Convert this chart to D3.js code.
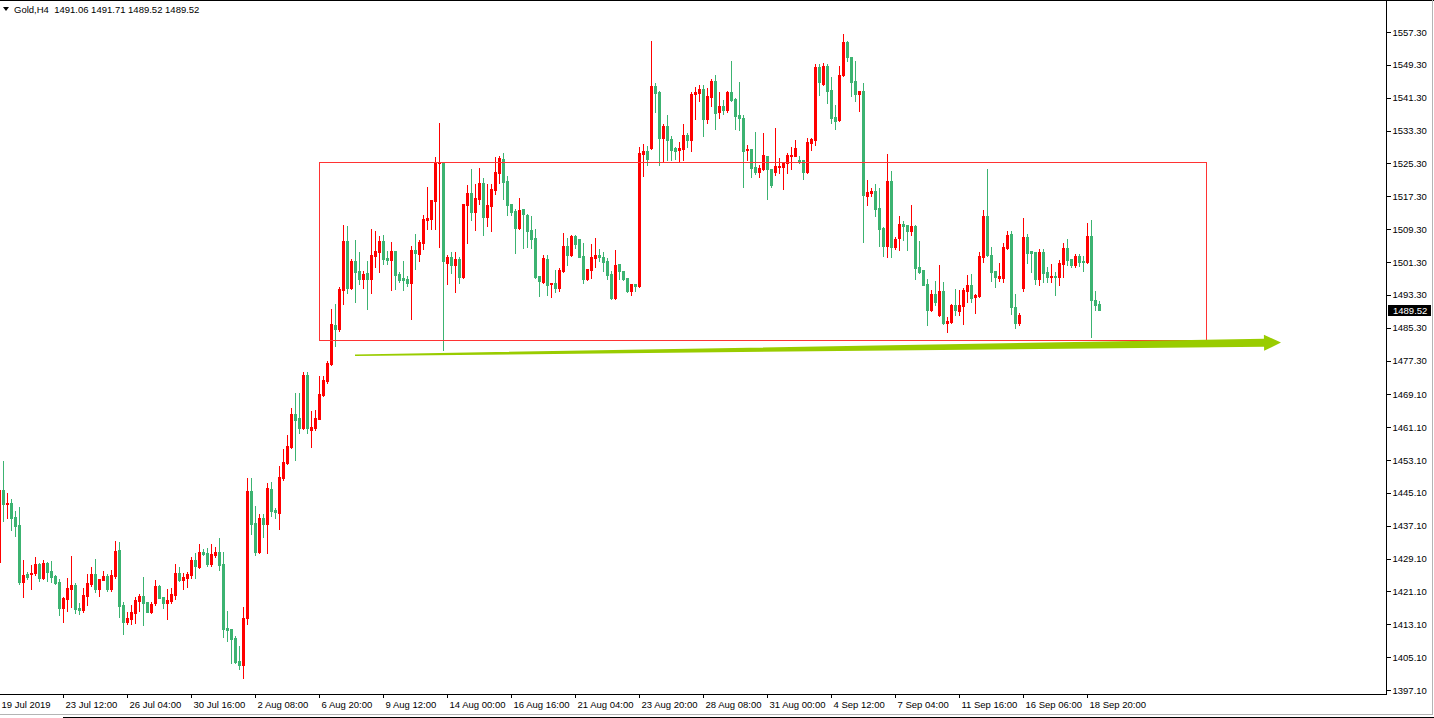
<!DOCTYPE html>
<html><head><meta charset="utf-8">
<script src="https://cdn.jsdelivr.net/npm/d3@7"></script>
<style>
html,body{margin:0;padding:0;background:#fff;overflow:hidden}
svg{display:block}
text{font-family:"Liberation Sans",Arial,sans-serif;font-size:9.5px;fill:#000}
</style>
</head><body>
<svg id="c" width="1434" height="718"></svg>
<script>
// ---- data (Gold, H4) ----
const openP=[1428.2,1445.8,1442.3,1442.6,1439.2,1437.3,1423.4,1425.3,1425.3,1425.6,1427.8,1424.4,1428.0,1426.1,1424.8,1423.4,1417.1,1419.2,1421.7,1422.7,
1417.1,1416.6,1420.0,1422.9,1425.3,1421.7,1423.9,1424.8,1421.7,1424.8,1431.2,1417.8,1413.6,1414.4,1415.8,1418.8,1420.0,1418.5,1416.1,1418.3,
1422.4,1419.7,1418.3,1418.8,1420.2,1425.6,1423.9,1424.4,1425.1,1428.7,1427.0,1430.7,1430.4,1427.8,1430.0,1430.7,1427.8,1412.2,1411.9,1409.7,
1404.1,1403.2,1414.6,1445.5,1437.8,1430.7,1439.0,1437.5,1446.0,1440.9,1440.2,1448.7,1452.3,1456.2,1464.3,1463.3,1460.9,1473.8,1460.4,1460.9,
1463.1,1468.9,1472.3,1476.5,1486.0,1485.0,1494.5,1506.4,1495.0,1501.5,1499.1,1497.1,1498.6,1497.1,1502.8,1503.7,1506.4,1502.3,1501.8,1504.0,
1498.4,1497.4,1497.1,1496.2,1504.2,1503.2,1505.9,1511.5,1511.8,1516.1,1525.4,1525.6,1501.0,1502.5,1500.6,1502.0,1497.6,1515.2,1518.1,1513.5,
1516.6,1520.5,1512.2,1514.9,1518.8,1523.0,1526.4,1521.0,1515.4,1513.7,1509.6,1514.2,1512.7,1509.1,1507.1,1497.9,1496.4,1502.0,1495.9,1496.2,
1495.0,1499.1,1505.2,1503.0,1507.6,1506.9,1502.8,1497.1,1499.3,1502.3,1503.0,1502.5,1501.5,1498.4,1492.5,1500.8,1499.1,1497.4,1494.2,1495.9,
1495.4,1527.6,1528.3,1529.1,1544.1,1542.7,1531.5,1534.4,1531.2,1529.1,1528.6,1528.8,1532.2,1531.0,1542.2,1542.4,1543.4,1536.1,1541.5,1545.4,
1537.8,1539.3,1538.3,1542.7,1541.0,1537.1,1536.4,1528.6,1528.8,1524.4,1523.2,1523.9,1527.1,1523.9,1523.2,1524.4,1524.4,1525.4,1527.1,1527.1,
1526.1,1526.1,1523.2,1530.3,1531.0,1548.8,1544.6,1549.0,1543.2,1536.6,1535.9,1546.8,1554.9,1551.2,1545.4,1542.2,1542.9,1517.4,1518.1,1518.6,
1514.4,1509.6,1505.2,1521.0,1505.0,1507.1,1510.5,1510.3,1508.8,1510.1,1500.1,1499.3,1495.9,1489.6,1493.5,1488.4,1494.2,1486.4,1486.7,1490.8,
1489.4,1490.6,1494.2,1495.7,1492.8,1493.0,1502.5,1512.5,1503.0,1499.1,1497.4,1497.4,1504.7,1508.1,1490.3,1486.4,1495.0,1507.4,1504.0,1503.7,
1497.1,1503.7,1498.8,1497.6,1497.9,1497.6,1500.8,1504.7,1502.0,1500.6,1502.8,1501.5,1501.3,1507.6,1492.0,1491.06];
const highP=[1446.3,1452.8,1445.0,1443.6,1440.7,1441.6,1428.7,1425.8,1427.5,1429.5,1428.0,1428.7,1428.2,1428.5,1425.1,1424.1,1419.7,1424.4,1429.7,1423.1,
1418.3,1421.9,1425.3,1427.0,1429.0,1424.1,1426.1,1425.3,1426.3,1433.4,1433.1,1418.5,1416.1,1417.8,1419.7,1420.5,1424.6,1418.6,1418.5,1423.9,
1422.7,1419.8,1421.7,1421.9,1427.8,1427.0,1425.6,1425.8,1429.5,1430.4,1432.6,1431.4,1431.7,1432.6,1431.9,1434.1,1430.7,1416.3,1412.0,1410.2,
1407.8,1417.3,1448.7,1448.7,1441.9,1439.9,1439.9,1447.5,1447.7,1441.4,1451.6,1455.8,1459.2,1465.7,1469.4,1469.4,1474.5,1474.5,1465.0,1465.3,
1473.5,1473.5,1477.2,1489.8,1491.1,1495.2,1510.3,1510.1,1502.0,1506.6,1503.7,1499.1,1501.5,1509.3,1508.8,1507.6,1507.9,1504.0,1506.2,1504.1,
1498.8,1501.5,1497.9,1505.2,1508.1,1506.6,1512.7,1519.6,1516.5,1526.9,1535.1,1525.7,1503.0,1503.7,1503.7,1502.5,1515.5,1520.0,1523.9,1520.3,
1524.2,1521.7,1520.3,1520.3,1526.9,1527.1,1527.8,1522.2,1515.5,1514.2,1516.9,1514.3,1513.0,1512.5,1509.3,1498.0,1503.0,1503.0,1496.3,1499.3,
1499.8,1508.4,1507.1,1507.9,1507.9,1507.0,1505.9,1499.7,1505.7,1507.1,1504.5,1503.7,1502.3,1499.1,1504.2,1500.9,1499.2,1497.5,1496.0,1496.0,
1529.3,1530.0,1529.5,1555.1,1544.9,1542.9,1534.9,1537.1,1532.0,1529.3,1530.5,1534.9,1532.7,1542.7,1543.9,1544.4,1544.4,1543.7,1545.9,1546.8,
1542.7,1540.7,1542.9,1550.2,1541.2,1545.1,1537.1,1529.8,1528.9,1532.9,1524.9,1532.7,1527.2,1524.0,1533.9,1526.6,1525.7,1527.8,1529.3,1531.0,
1527.1,1526.2,1531.5,1531.5,1549.5,1549.5,1549.7,1549.5,1546.3,1539.5,1549.0,1556.8,1555.1,1551.3,1550.2,1543.0,1544.9,1521.3,1519.3,1520.3,
1519.3,1509.8,1527.6,1523.4,1507.4,1512.5,1511.3,1510.4,1515.2,1510.3,1506.4,1499.4,1497.1,1494.5,1496.6,1500.6,1496.4,1487.9,1491.0,1494.7,
1494.5,1495.0,1498.1,1498.4,1493.4,1503.7,1514.0,1523.9,1505.0,1499.2,1501.1,1505.9,1508.8,1508.8,1493.5,1488.9,1512.0,1508.1,1504.1,1503.8,
1504.5,1504.5,1500.1,1500.8,1498.8,1501.8,1505.9,1506.9,1502.1,1503.2,1503.2,1502.8,1510.8,1511.5,1494.2,1491.71];
const lowP=[1427.8,1438.2,1439.0,1436.0,1434.6,1422.9,1419.7,1424.1,1421.7,1425.1,1423.6,1424.1,1423.6,1423.4,1422.9,1415.3,1413.6,1416.3,1417.3,1415.8,
1415.6,1416.1,1417.8,1422.4,1421.0,1420.0,1423.9,1421.2,1421.2,1424.4,1414.9,1410.7,1413.2,1413.2,1413.4,1416.3,1412.9,1416.0,1415.8,1417.8,
1419.4,1417.1,1414.4,1418.3,1419.2,1423.6,1421.7,1422.2,1424.4,1424.4,1426.9,1430.0,1427.3,1427.3,1429.5,1426.3,1410.0,1409.0,1403.7,1403.6,
1402.2,1400.0,1413.2,1435.1,1430.0,1430.5,1434.3,1430.4,1439.5,1439.0,1436.3,1448.2,1452.1,1456.0,1453.1,1459.6,1460.6,1459.6,1456.2,1460.4,
1463.0,1468.7,1471.8,1476.3,1480.8,1484.5,1491.1,1493.7,1494.8,1491.6,1495.9,1495.0,1489.8,1493.7,1500.1,1498.8,1500.8,1500.8,1494.5,1494.7,
1496.4,1494.5,1495.4,1487.4,1499.6,1501.5,1504.5,1509.3,1509.3,1509.3,1505.0,1479.9,1495.9,1498.6,1494.0,1496.2,1497.4,1505.9,1511.5,1509.1,
1515.4,1507.9,1510.1,1508.8,1517.8,1520.5,1516.6,1512.7,1512.7,1503.5,1509.4,1504.7,1505.0,1504.7,1497.4,1493.0,1496.2,1493.3,1492.8,1494.0,
1494.2,1498.8,1500.6,1502.8,1504.7,1502.4,1496.2,1496.9,1497.4,1500.1,1501.5,1499.1,1497.1,1492.3,1492.3,1497.1,1497.0,1494.1,1493.3,1494.2,
1495.2,1522.2,1524.9,1528.8,1537.8,1524.9,1525.6,1526.1,1526.1,1526.4,1525.6,1526.1,1529.3,1528.3,1536.1,1540.5,1532.0,1535.1,1539.3,1533.7,
1536.4,1537.3,1537.8,1540.6,1533.7,1533.4,1519.6,1526.1,1522.0,1522.7,1522.0,1523.7,1516.6,1519.6,1522.5,1523.0,1519.1,1523.0,1523.9,1527.0,
1525.4,1521.5,1523.0,1528.6,1529.8,1542.0,1544.4,1540.0,1535.1,1533.7,1535.7,1546.6,1550.2,1541.7,1540.5,1538.1,1506.2,1515.2,1517.4,1512.5,
1505.2,1502.8,1502.5,1502.5,1504.5,1504.2,1506.6,1504.2,1507.9,1497.1,1498.7,1495.6,1486.0,1489.4,1490.8,1488.2,1486.3,1484.3,1486.5,1488.4,
1488.4,1486.2,1491.6,1491.6,1488.9,1492.8,1501.3,1502.8,1496.6,1495.2,1496.6,1496.4,1504.5,1488.6,1485.2,1486.0,1494.2,1501.0,1498.8,1495.9,
1495.7,1496.4,1496.4,1496.4,1493.3,1495.7,1497.6,1500.6,1500.1,1500.1,1500.3,1499.1,1501.0,1483.0,1489.6,1489.52];
const closeP=[1445.8,1442.4,1442.6,1439.0,1437.0,1423.4,1425.1,1424.6,1425.6,1427.8,1424.4,1428.0,1425.8,1424.6,1423.1,1417.1,1419.5,1421.9,1422.7,1416.8,
1416.6,1420.2,1423.1,1425.3,1421.7,1424.1,1424.8,1421.7,1425.1,1430.9,1417.5,1413.6,1414.6,1416.1,1419.0,1420.0,1418.3,1416.1,1418.0,1422.4,
1419.5,1418.3,1419.0,1420.5,1425.6,1423.9,1424.6,1425.3,1428.7,1427.3,1430.7,1430.2,1427.8,1430.2,1430.7,1427.5,1411.9,1411.7,1409.5,1403.9,
1403.2,1414.6,1445.5,1437.5,1430.7,1439.0,1437.5,1446.3,1440.7,1440.4,1448.9,1452.6,1456.5,1464.3,1462.8,1460.9,1473.8,1460.9,1461.1,1463.3,
1469.2,1472.6,1476.7,1486.2,1485.0,1494.7,1506.4,1495.0,1501.5,1498.8,1497.1,1498.4,1497.1,1503.0,1504.0,1506.4,1502.0,1501.8,1504.0,1498.1,
1496.9,1496.9,1496.2,1504.2,1503.5,1506.2,1511.8,1512.0,1516.4,1525.6,1525.6,1501.5,1502.5,1500.6,1502.0,1497.6,1515.4,1518.1,1513.5,1516.9,
1520.5,1512.2,1515.2,1519.1,1523.2,1526.6,1520.8,1515.2,1513.5,1509.6,1514.0,1513.0,1508.8,1506.9,1497.6,1496.6,1502.3,1495.7,1496.2,1495.0,
1499.3,1505.2,1503.0,1507.6,1505.7,1502.5,1497.1,1499.6,1502.5,1503.0,1502.5,1501.3,1498.1,1492.5,1500.6,1499.1,1497.1,1494.2,1495.9,1495.4,
1527.8,1528.3,1526.4,1544.1,1542.4,1531.5,1534.4,1531.0,1528.6,1528.3,1529.1,1532.2,1531.0,1542.2,1542.7,1543.4,1536.1,1541.7,1545.4,1537.6,
1539.3,1538.3,1542.7,1540.7,1536.9,1536.4,1528.3,1528.8,1524.2,1523.2,1524.2,1527.3,1523.9,1520.0,1524.7,1524.7,1525.6,1527.3,1527.3,1529.1,
1525.9,1523.2,1530.5,1531.2,1548.8,1545.1,1549.0,1542.9,1536.4,1535.6,1546.8,1554.9,1551.2,1545.1,1542.2,1542.9,1517.6,1518.3,1518.6,1514.2,
1509.3,1505.2,1521.0,1505.0,1506.9,1510.5,1510.1,1508.8,1510.1,1499.8,1498.8,1495.7,1489.6,1493.5,1491.6,1494.2,1486.4,1486.9,1490.8,1489.6,
1490.8,1494.5,1495.7,1492.5,1493.3,1502.8,1512.5,1503.0,1498.8,1497.6,1497.9,1505.0,1507.9,1490.3,1486.4,1488.4,1507.4,1503.5,1503.5,1497.1,
1503.7,1498.6,1497.6,1497.9,1497.6,1501.0,1504.7,1501.8,1500.6,1502.8,1501.3,1501.3,1507.6,1492.0,1490.8,1489.52];

const timeLabels=["19 Jul 2019","23 Jul 12:00","26 Jul 04:00","30 Jul 16:00","2 Aug 08:00","6 Aug 20:00","9 Aug 12:00","14 Aug 00:00","16 Aug 16:00",
"21 Aug 04:00","23 Aug 20:00","28 Aug 08:00","31 Aug 00:00","4 Sep 12:00","7 Sep 04:00","11 Sep 16:00","16 Sep 06:00","18 Sep 20:00"];
const barsPerLabel=16;
const priceTicks=[1557.30,1549.30,1541.30,1533.30,1525.30,1517.30,1509.30,1501.30,1493.30,1485.30,1477.30,
1469.10,1461.10,1453.10,1445.10,1437.10,1429.10,1421.10,1413.10,1405.10,1397.10];
const symbolName="Gold,H4";
const lastBar=[1491.06,1491.71,1489.52,1489.52];
// annotations (bar index / price)
const zoneBars=[80,301.75];
const zonePrices=[1525.6,1482.2];
const arrowStart=[89,1478.6];
const arrowEnd=[320.5,1481.7];

// ---- drawing ----
const svg=d3.select("#c");
const W=1434,H=718, plotR=1387, plotB=694;
const x=d3.scaleLinear().domain([0,275]).range([-1,1099]);
const y=d3.scaleLinear().domain([1397.1,1557.3]).range([690,32]);
const UP="#ff0000", DOWN="#3cb371";

const bars=d3.range(openP.length).map(i=>({i,o:openP[i],h:highP[i],l:lowP[i],c:closeP[i]}));

const plot=svg.append("g").attr("shape-rendering","crispEdges");
const cg=plot.selectAll("g.bar").data(bars).join("g").attr("class","bar");
cg.append("rect")
  .attr("x",d=>Math.round(x(d.i)))
  .attr("width",1)
  .attr("y",d=>Math.round(y(d.h)))
  .attr("height",d=>Math.max(1,Math.round(y(d.l))-Math.round(y(d.h))+1))
  .attr("fill",d=>d.c>d.o?UP:DOWN);
cg.append("rect")
  .attr("x",d=>Math.round(x(d.i))-1)
  .attr("width",3)
  .attr("y",d=>Math.round(y(Math.max(d.o,d.c))))
  .attr("height",d=>Math.max(1,Math.round(y(Math.min(d.o,d.c)))-Math.round(y(Math.max(d.o,d.c)))+1))
  .attr("fill",d=>d.c>d.o?UP:DOWN);

// zone rectangle
const zx0=Math.round(x(zoneBars[0])), zx1=Math.round(x(zoneBars[1]));
const zy0=Math.round(y(zonePrices[0])), zy1=Math.round(y(zonePrices[1]));
svg.append("rect").attr("x",zx0+0.5).attr("y",zy0+0.5).attr("width",zx1-zx0).attr("height",zy1-zy0)
  .attr("fill","none").attr("stroke","#ff3333").attr("stroke-width",1);

// tapered arrow
(function(){
  const x0=x(arrowStart[0]), y0=y(arrowStart[1]), x1=x(arrowEnd[0]), y1=y(arrowEnd[1]);
  const len=Math.hypot(x1-x0,y1-y0), ux=(x1-x0)/len, uy=(y1-y0)/len, nx=-uy, ny=ux;
  const headL=17, headW=8, w0=0.8, w1=3.9;
  const sx=x1-ux*headL, sy=y1-uy*headL;
  const pts=[[x0+nx*w0,y0+ny*w0],[sx+nx*w1,sy+ny*w1],[sx+nx*headW,sy+ny*headW],[x1,y1],
             [sx-nx*headW,sy-ny*headW],[sx-nx*w1,sy-ny*w1],[x0-nx*w0,y0-ny*w0]];
  svg.append("path").attr("d","M"+pts.map(p=>p.join(",")).join("L")+"Z").attr("fill","#99cc00");
})();

// frame lines
const frame=svg.append("g").attr("shape-rendering","crispEdges");
frame.append("line").attr("x1",0).attr("x2",W).attr("y1",0.5).attr("y2",0.5).attr("stroke","#000");
frame.append("line").attr("x1",plotR-0.5).attr("x2",plotR-0.5).attr("y1",0).attr("y2",plotB+1).attr("stroke","#000");
frame.append("line").attr("x1",0).attr("x2",plotR).attr("y1",plotB+0.5).attr("y2",plotB+0.5).attr("stroke","#000");
frame.append("line").attr("x1",0).attr("x2",1433).attr("y1",714.5).attr("y2",714.5).attr("stroke","#b4b4b4");
frame.append("line").attr("x1",1432.5).attr("x2",1432.5).attr("y1",0).attr("y2",715).attr("stroke","#b4b4b4");
frame.append("line").attr("x1",63).attr("x2",W).attr("y1",717.5).attr("y2",717.5).attr("stroke","#000");

// right price axis
const yAxis=d3.axisRight(y).tickValues(priceTicks).tickSize(4).tickPadding(2).tickFormat(d3.format(".2f"));
const ya=svg.append("g").attr("transform",`translate(${plotR-0.5},0)`).call(yAxis);
ya.select(".domain").remove();
ya.selectAll("line").attr("stroke","#000").attr("shape-rendering","crispEdges");
ya.selectAll("text").attr("font-family","Liberation Sans, Arial, sans-serif").attr("font-size","9.5px").attr("fill","#000");

// bottom time axis
const tickIdx=timeLabels.map((_,k)=>k*barsPerLabel);
const xAxis=d3.axisBottom(x).tickValues(tickIdx).tickSize(4).tickFormat((d,k)=>timeLabels[k]);
const xa=svg.append("g").attr("transform",`translate(0,${plotB})`).call(xAxis);
xa.select(".domain").remove();
xa.selectAll("line").attr("stroke","#000").attr("shape-rendering","crispEdges");
xa.selectAll("text").attr("text-anchor","start").attr("x",2).attr("dy",0).attr("y",13.5)
  .attr("font-family","Liberation Sans, Arial, sans-serif").attr("font-size","9.5px").attr("fill","#000");

// current price label
const ly=Math.round(y(lastBar[3]));
svg.append("rect").attr("x",plotR+1).attr("y",ly-5).attr("width",43).attr("height",11).attr("fill","#000").attr("shape-rendering","crispEdges");
svg.append("text").attr("x",plotR+6).attr("y",ly+4).style("fill","#fff").text(d3.format(".2f")(lastBar[3]));

// title
svg.append("path").attr("d","M3,7L9,7L6,11Z").attr("fill","#000");
svg.append("text").attr("x",14).attr("y",12.5).style("white-space","pre")
  .text(symbolName+"  "+lastBar.map(d3.format(".2f")).join(" "));
</script>
</body></html>
